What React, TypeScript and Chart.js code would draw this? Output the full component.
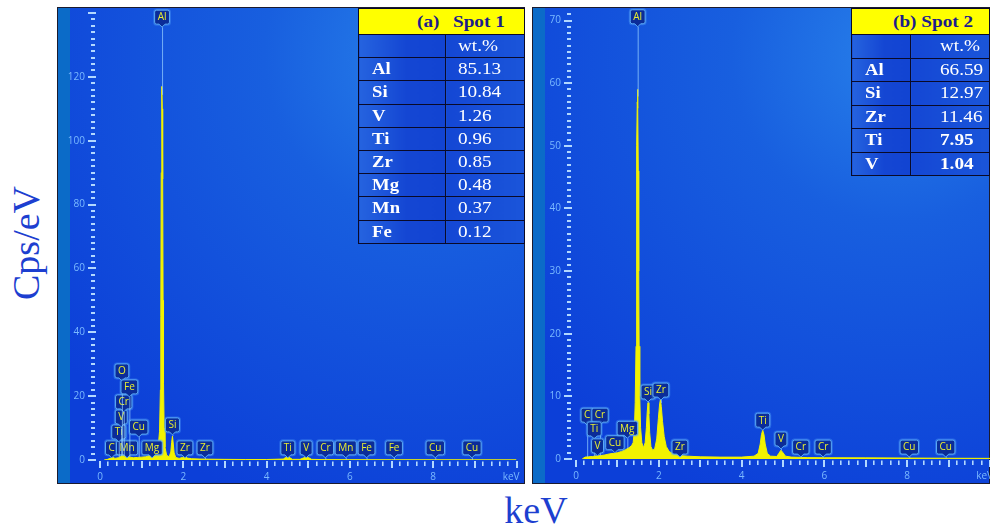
import React, { useEffect, useRef } from 'react';
import { Chart, registerables } from 'chart.js';

Chart.register(...registerables);

// ---- Spot 1 spectrum (energy in keV, intensity in cps/eV) ----
const spot1Energy = [0.10, 0.18, 0.26, 0.30, 0.36, 0.44, 0.50, 0.54, 0.60, 0.66, 0.72, 0.80, 0.90, 1.00, 1.10, 1.20, 1.25, 1.30, 1.36, 1.40, 1.43, 1.45, 1.46, 1.47, 1.48, 1.487, 1.495, 1.505, 1.515, 1.525, 1.54, 1.56, 1.60, 1.66, 1.70, 1.72, 1.74, 1.76, 1.78, 1.82, 1.90, 1.98, 2.04, 2.10, 2.20, 2.40, 2.60, 3.00, 3.50, 4.00, 4.40, 4.46, 4.51, 4.56, 4.62, 4.80, 4.90, 4.95, 5.00, 5.08, 5.40, 6.00, 7.00, 8.00, 9.00, 10.0];
const spot1Counts = [0.0, 0.2, 0.6, 0.9, 0.5, 0.7, 1.2, 1.6, 1.1, 1.3, 0.9, 0.7, 0.8, 0.9, 1.0, 1.5, 1.9, 1.7, 2.6, 4.5, 9, 22, 45, 90, 112, 117, 110, 88, 50, 24, 10, 4, 1.5, 1.0, 2.5, 5.5, 7.5, 5.0, 2.2, 0.8, 0.5, 0.8, 1.1, 0.6, 0.4, 0.3, 0.25, 0.2, 0.15, 0.15, 0.3, 0.8, 1.1, 0.7, 0.2, 0.2, 0.7, 1.3, 0.8, 0.2, 0.12, 0.1, 0.08, 0.08, 0.06, 0.05];

// ---- Spot 2 spectrum ----
const spot2Energy = [0.15, 0.22, 0.30, 0.40, 0.50, 0.60, 0.70, 0.80, 0.90, 1.00, 1.10, 1.20, 1.28, 1.34, 1.38, 1.41, 1.43, 1.45, 1.46, 1.47, 1.48, 1.487, 1.495, 1.505, 1.515, 1.525, 1.54, 1.56, 1.59, 1.63, 1.67, 1.70, 1.72, 1.74, 1.76, 1.78, 1.81, 1.85, 1.90, 1.95, 1.99, 2.02, 2.04, 2.06, 2.09, 2.13, 2.18, 2.25, 2.35, 2.50, 2.70, 3.00, 3.50, 4.00, 4.30, 4.40, 4.45, 4.48, 4.51, 4.54, 4.57, 4.62, 4.70, 4.85, 4.90, 4.95, 5.00, 5.06, 5.20, 5.60, 6.00, 7.00, 8.00, 9.00, 10.0];
const spot2Counts = [0.0, 0.3, 0.35, 0.4, 0.5, 0.55, 0.65, 0.8, 0.9, 1.0, 1.2, 1.5, 1.8, 2.1, 2.6, 4.5, 9, 18, 32, 50, 57, 59, 56, 46, 30, 18, 10, 5, 2.6, 1.8, 2.6, 5.0, 7.5, 9.0, 7.2, 4.2, 2.0, 1.4, 1.6, 3.2, 6.5, 8.8, 9.5, 8.4, 6.0, 3.6, 2.0, 1.2, 0.8, 0.55, 0.45, 0.35, 0.3, 0.3, 0.45, 0.9, 2.4, 3.9, 4.6, 3.9, 2.4, 0.9, 0.45, 0.4, 0.9, 1.4, 1.0, 0.45, 0.3, 0.22, 0.2, 0.18, 0.15, 0.12, 0.1];

// ---- Peak markers: element, line energy (keV), tag height (cps/eV) ----
const spot1PeakNames = ['C', 'Mn', 'Ti', 'V', 'Cr', 'O', 'Fe', 'Cu', 'Mg', 'Al', 'Si', 'Zr', 'Zr', 'Ti', 'V', 'Cr', 'Mn', 'Fe', 'Fe', 'Cu', 'Cu'];
const spot1PeakEnergy = [0.28, 0.65, 0.45, 0.51, 0.57, 0.525, 0.705, 0.93, 1.25, 1.49, 1.74, 2.04, 2.52, 4.51, 4.95, 5.41, 5.90, 6.40, 7.06, 8.05, 8.93];
const spot1PeakLevel = [3.8, 3.8, 8.8, 13.5, 18.2, 27.9, 22.9, 10.3, 3.8, 138.7, 11.0, 3.8, 3.8, 3.8, 3.8, 3.8, 3.8, 3.8, 3.8, 3.8, 3.8];

const spot2PeakNames = ['C', 'Cr', 'Ti', 'V', 'Cu', 'Mg', 'Al', 'Si', 'Zr', 'Zr', 'Ti', 'V', 'Cr', 'Cr', 'Cu', 'Cu'];
const spot2PeakEnergy = [0.27, 0.58, 0.44, 0.52, 0.94, 1.24, 1.49, 1.74, 2.05, 2.51, 4.51, 4.95, 5.43, 5.97, 8.05, 8.93];
const spot2PeakLevel = [7.0, 7.0, 4.8, 2.1, 2.6, 4.9, 70.6, 10.7, 11.0, 1.9, 6.2, 3.2, 1.9, 1.9, 1.9, 1.9];

// ---- Composition tables (wt.%) ----
const spot1Elements = ['Al', 'Si', 'V', 'Ti', 'Zr', 'Mg', 'Mn', 'Fe'];
const spot1Wt = ['85.13', '10.84', '1.26', '0.96', '0.85', '0.48', '0.37', '0.12'];
const spot2Elements = ['Al', 'Si', 'Zr', 'Ti', 'V'];
const spot2Wt = ['66.59', '12.97', '11.46', '7.95', '1.04'];
const spot2WtBold = [false, false, false, true, true];

const xTickLabels = ['0', '2', '4', '6', '8'];

function interp(xs: number[], ys: number[], x: number) {
  if (x <= xs[0]) return ys[0];
  for (let i = 1; i < xs.length; i++) {
    if (x <= xs[i]) {
      const t = (x - xs[i - 1]) / (xs[i] - xs[i - 1]);
      return ys[i - 1] + t * (ys[i] - ys[i - 1]);
    }
  }
  return ys[ys.length - 1];
}

// Spectrum frame, blue backdrop, tick marks and element tags
const edsDecor = {
  id: 'edsDecor',
  beforeDraw(chart: any) {
    const { ctx, width, height } = chart;
    ctx.save();
    const cx = width * 0.8;
    const cy = height * 0.1;
    const g = ctx.createRadialGradient(cx, cy, 0, cx, cy, height * 1.0);
    g.addColorStop(0, '#2780ea');
    g.addColorStop(0.35, '#185fdf');
    g.addColorStop(1, '#0c3fd8');
    ctx.fillStyle = g;
    ctx.fillRect(0, 0, width, height);
    ctx.fillStyle = '#0b6bc8';
    ctx.fillRect(1, 1, 12, height - 2);
    ctx.strokeStyle = '#1b1b2e';
    ctx.lineWidth = 1;
    ctx.strokeRect(0.5, 0.5, width - 1, height - 1);
    ctx.restore();
  },
  afterDatasetsDraw(chart: any, _args: any, o: any) {
    const { ctx, chartArea, scales } = chart;
    const xs = scales.x;
    const ys = scales.y;
    const base = ys.getPixelForValue(0);
    ctx.save();

    // y axis ticks
    const ratio = Math.round(o.yMajor / o.yMinor);
    ctx.fillStyle = '#b2d8ff';
    for (let i = 0; i * o.yMinor <= o.yTickMax + 1e-9; i++) {
      const py = Math.round(ys.getPixelForValue(i * o.yMinor));
      if (i % ratio === 0) ctx.fillRect(chartArea.left - 12, py - 1, 8, 2);
      else ctx.fillRect(chartArea.left - 9, py - 1, 4, 2);
    }
    ctx.fillStyle = '#7ab9ff';
    ctx.font = '10px "Open Sans", sans-serif';
    ctx.textAlign = 'right';
    ctx.textBaseline = 'middle';
    for (let v = 0; v <= o.yLabelMax; v += o.yMajor) {
      ctx.fillText(String(v), chartArea.left - 15, ys.getPixelForValue(v));
    }

    // x axis ticks
    ctx.fillStyle = '#b2d8ff';
    for (let i = 0; i <= 50; i++) {
      const px = Math.round(xs.getPixelForValue(i * 0.2));
      if (i % 5 === 0) ctx.fillRect(px - 1, base + 1, 2, 7);
      else ctx.fillRect(px - 1, base + 1.5, 1.6, 4.5);
    }
    ctx.fillStyle = '#7ab9ff';
    ctx.textAlign = 'center';
    xTickLabels.forEach((t) => {
      ctx.fillText(t, xs.getPixelForValue(Number(t)), base + 17);
    });
    ctx.textAlign = 'right';
    ctx.fillText('keV', xs.getPixelForValue(10) + 3, base + 17);

    // element tags
    ctx.font = '10px "Open Sans", sans-serif';
    ctx.textAlign = 'center';
    ctx.textBaseline = 'middle';
    const names: string[] = o.peakNames;
    names.forEach((name, i) => {
      const e = o.peakEnergy[i];
      const px = xs.getPixelForValue(e);
      const py = ys.getPixelForValue(o.peakLevel[i]);
      const w = ctx.measureText(name).width + 6;
      const h = 14;
      const top = py - h / 2;
      const bottom = py + h / 2;
      const target = ys.getPixelForValue(interp(o.energy, o.counts, e));
      if (target > bottom + 3) {
        ctx.strokeStyle = 'rgba(150,205,255,0.75)';
        ctx.lineWidth = 1;
        ctx.beginPath();
        ctx.moveTo(px + 0.5, bottom + 3);
        ctx.lineTo(px + 0.5, target);
        ctx.stroke();
      }
      // glow
      ctx.strokeStyle = 'rgba(90,170,255,0.35)';
      ctx.lineWidth = 3;
      ctx.beginPath();
      ctx.roundRect(px - w / 2, top, w, h, 2);
      ctx.stroke();
      // box with pointer
      ctx.fillStyle = '#0b2c98';
      ctx.strokeStyle = '#5aaaf5';
      ctx.lineWidth = 1;
      ctx.beginPath();
      ctx.moveTo(px - w / 2 + 2, top);
      ctx.lineTo(px + w / 2 - 2, top);
      ctx.quadraticCurveTo(px + w / 2, top, px + w / 2, top + 2);
      ctx.lineTo(px + w / 2, bottom - 2);
      ctx.quadraticCurveTo(px + w / 2, bottom, px + w / 2 - 2, bottom);
      ctx.lineTo(px + 3, bottom);
      ctx.lineTo(px, bottom + 3);
      ctx.lineTo(px - 3, bottom);
      ctx.lineTo(px - w / 2 + 2, bottom);
      ctx.quadraticCurveTo(px - w / 2, bottom, px - w / 2, bottom - 2);
      ctx.lineTo(px - w / 2, top + 2);
      ctx.quadraticCurveTo(px - w / 2, top, px - w / 2 + 2, top);
      ctx.closePath();
      ctx.fill();
      ctx.stroke();
      ctx.fillStyle = '#e9ef30';
      ctx.fillText(name, px, py + 0.5);
    });
    ctx.restore();
  },
};

type SpectrumProps = {
  left: number;
  top: number;
  width: number;
  height: number;
  padding: { left: number; right: number; top: number; bottom: number };
  yMax: number;
  yMajor: number;
  yMinor: number;
  yTickMax: number;
  yLabelMax: number;
  energy: number[];
  counts: number[];
  peakNames: string[];
  peakEnergy: number[];
  peakLevel: number[];
};

function Spectrum(p: SpectrumProps) {
  const ref = useRef<HTMLCanvasElement>(null);
  useEffect(() => {
    const chart = new Chart(ref.current as HTMLCanvasElement, {
      type: 'line',
      data: {
        datasets: [
          {
            data: p.energy.map((e, i) => ({ x: e, y: p.counts[i] })),
            borderColor: '#f2f200',
            backgroundColor: '#f2f200',
            fill: 'origin',
            pointRadius: 0,
            borderWidth: 1,
            tension: 0,
          },
        ],
      },
      options: {
        animation: false,
        responsive: false,
        maintainAspectRatio: false,
        events: [],
        layout: { padding: p.padding },
        scales: {
          x: { type: 'linear', min: 0, max: 10, display: false },
          y: { type: 'linear', min: 0, max: p.yMax, display: false },
        },
        plugins: {
          legend: { display: false },
          tooltip: { enabled: false },
          edsDecor: {
            yMajor: p.yMajor,
            yMinor: p.yMinor,
            yTickMax: p.yTickMax,
            yLabelMax: p.yLabelMax,
            energy: p.energy,
            counts: p.counts,
            peakNames: p.peakNames,
            peakEnergy: p.peakEnergy,
            peakLevel: p.peakLevel,
          },
        } as any,
      },
      plugins: [edsDecor as any],
    });
    return () => chart.destroy();
  }, []);
  return (
    <canvas
      ref={ref}
      width={p.width}
      height={p.height}
      style={{ position: 'absolute', left: p.left, top: p.top, width: p.width, height: p.height }}
    />
  );
}

const cellBorder = '1px solid #0a0a28';
const serif = '"Liberation Serif", "Times New Roman", serif';

// table text is set slightly wide
function Wide(props: { children: React.ReactNode; sx?: number }) {
  return (
    <span
      style={{
        display: 'inline-block',
        transform: `scaleX(${props.sx ?? 1.2})`,
        transformOrigin: 'left center',
      }}
    >
      {props.children}
    </span>
  );
}

function WtTable(props: {
  left: number;
  width: number;
  col1: number;
  tag: string;
  spot: string;
  centeredHead: boolean;
  elements: string[];
  values: string[];
  bold?: boolean[];
  rowH: number;
  valuePad: number;
}) {
  const elemBg = 'linear-gradient(90deg, #2563df 0%, #1446d3 55%, #1244d2 100%)';
  const valBg = 'linear-gradient(90deg, #1447d4 0%, #1a55da 100%)';
  const headStyle: React.CSSProperties = {
    background: '#ffff00',
    color: '#1c1c8c',
    fontWeight: 'bold',
    fontSize: 16,
    height: 25,
    padding: 0,
    border: cellBorder,
  };
  return (
    <table
      style={{
        position: 'absolute',
        left: props.left,
        top: 8,
        width: props.width,
        borderCollapse: 'collapse',
        tableLayout: 'fixed',
        fontFamily: serif,
        color: '#ffffff',
      }}
    >
      <colgroup>
        <col style={{ width: props.col1 }} />
        <col style={{ width: props.width - props.col1 }} />
      </colgroup>
      <tbody>
        {props.centeredHead ? (
          <tr>
            <td colSpan={2} style={{ ...headStyle, textAlign: 'left', paddingLeft: 41 }}>
              <Wide>
                {props.tag} {props.spot}
              </Wide>
            </td>
          </tr>
        ) : (
          <tr>
            <td style={{ ...headStyle, textAlign: 'left', paddingLeft: 58, borderRight: 'none' }}>
              <Wide>{props.tag}</Wide>
            </td>
            <td style={{ ...headStyle, textAlign: 'left', paddingLeft: 7, borderLeft: 'none' }}>
              <Wide>{props.spot}</Wide>
            </td>
          </tr>
        )}
        <tr>
          <td style={{ background: elemBg, border: cellBorder, height: props.rowH, padding: 0 }} />
          <td
            style={{
              background: valBg,
              border: cellBorder,
              height: props.rowH,
              padding: `0 0 0 ${props.valuePad}px`,
              fontSize: 17,
            }}
          >
            <Wide sx={1.13}>wt.%</Wide>
          </td>
        </tr>
        {props.elements.map((el, i) => (
          <tr key={i}>
            <td
              style={{
                background: elemBg,
                border: cellBorder,
                height: props.rowH,
                padding: '0 0 0 13px',
                fontSize: 17,
                fontWeight: 'bold',
              }}
            >
              <Wide sx={1.1}>{el}</Wide>
            </td>
            <td
              style={{
                background: valBg,
                border: cellBorder,
                height: props.rowH,
                padding: `0 0 0 ${props.valuePad}px`,
                fontSize: 17,
                fontWeight: props.bold && props.bold[i] ? 'bold' : 'normal',
              }}
            >
              <Wide sx={1.13}>{props.values[i]}</Wide>
            </td>
          </tr>
        ))}
      </tbody>
    </table>
  );
}

export default function App() {
  return (
    <div
      style={{
        position: 'fixed',
        left: 0,
        top: 0,
        width: 990,
        height: 528,
        background: '#ffffff',
        overflow: 'hidden',
      }}
    >
      <Spectrum
        left={57}
        top={7}
        width={468}
        height={477}
        padding={{ left: 43, right: 8.5, top: 6, bottom: 24 }}
        yMax={140}
        yMajor={20}
        yMinor={2}
        yTickMax={140}
        yLabelMax={120}
        energy={spot1Energy}
        counts={spot1Counts}
        peakNames={spot1PeakNames}
        peakEnergy={spot1PeakEnergy}
        peakLevel={spot1PeakLevel}
      />
      <Spectrum
        left={532}
        top={7}
        width={458}
        height={477}
        padding={{ left: 44, right: 0, top: 1, bottom: 25 }}
        yMax={72}
        yMajor={10}
        yMinor={1}
        yTickMax={71}
        yLabelMax={70}
        energy={spot2Energy}
        counts={spot2Counts}
        peakNames={spot2PeakNames}
        peakEnergy={spot2PeakEnergy}
        peakLevel={spot2PeakLevel}
      />
      <WtTable
        left={358}
        width={166}
        col1={87}
        tag="(a)"
        spot="Spot 1"
        centeredHead={false}
        elements={spot1Elements}
        values={spot1Wt}
        rowH={22.2}
        valuePad={12}
      />
      <WtTable
        left={851}
        width={138}
        col1={59}
        tag="(b)"
        spot="Spot 2"
        centeredHead={true}
        elements={spot2Elements}
        values={spot2Wt}
        bold={spot2WtBold}
        rowH={22.5}
        valuePad={29}
      />
      <div
        style={{
          position: 'absolute',
          left: 26,
          top: 243,
          transform: 'translate(-50%, -50%) rotate(-90deg)',
          fontFamily: serif,
          fontSize: 38,
          lineHeight: '40px',
          color: '#1d3fd0',
          whiteSpace: 'nowrap',
        }}
      >
        Cps/eV
      </div>
      <div
        style={{
          position: 'absolute',
          left: 536,
          top: 510,
          transform: 'translate(-50%, -50%)',
          fontFamily: serif,
          fontSize: 38,
          lineHeight: '40px',
          color: '#1d3fd0',
          whiteSpace: 'nowrap',
        }}
      >
        keV
      </div>
    </div>
  );
}
